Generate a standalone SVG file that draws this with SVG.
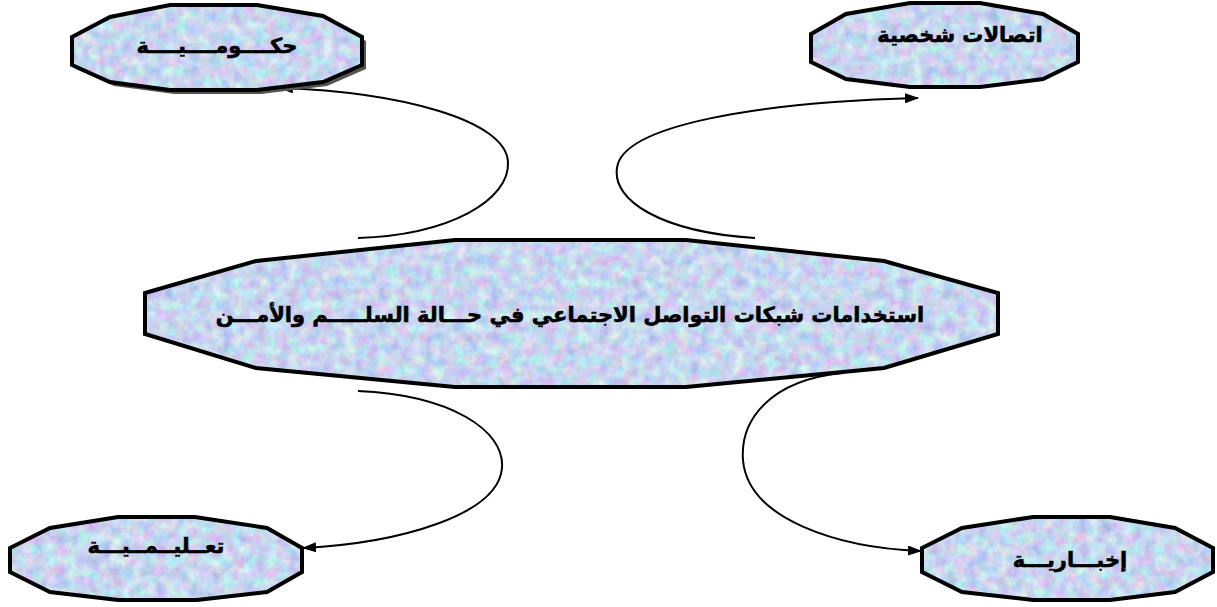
<svg xmlns="http://www.w3.org/2000/svg" width="1217" height="607" viewBox="0 0 1217 607">
<defs>
<filter id="tex" x="0" y="0" width="100%" height="100%" color-interpolation-filters="sRGB">
<feTurbulence type="fractalNoise" baseFrequency="0.09" numOctaves="3" seed="7" result="n"/>
<feColorMatrix in="n" type="matrix" values="0.4 0 0 0 0.58  0 0.4 0 0 0.64  0 0 0.15 0 0.86  0 0 0 0 1" result="c"/>
<feComposite in="c" in2="SourceGraphic" operator="in"/>
</filter>
<marker id="arr" viewBox="0 0 14 10" refX="13" refY="5" markerWidth="14" markerHeight="10" markerUnits="userSpaceOnUse" orient="auto">
<path d="M0,0 L14,5 L0,10 z" fill="#000"/>
</marker>
</defs>
<style>
.fill{fill:#c8d4f0;filter:url(#tex);}
.edge{fill:none;stroke:#000;stroke-width:4;stroke-linejoin:miter;}
.shadow{fill:#555;}
.lbl{font-family:"DejaVu Sans",sans-serif;font-weight:bold;font-size:21px;fill:#000;stroke:#000;stroke-width:0.6;text-anchor:middle;}
.conn{fill:none;stroke:#000;stroke-width:2;marker-end:url(#arr);}
</style>
<rect width="1217" height="607" fill="#fff"/>

<g id="connectors">
<path class="conn" d="M358,238 C450,235 510,200 508,162 C506,120 400,92 280,88"/>
<path class="conn" d="M755,238 C660,232 612,200 617,168 C622,125 760,102 918,98"/>
<path class="conn" d="M358,391 C450,395 505,430 502,468 C498,515 400,543 303,548"/>
<path class="conn" d="M843,373 C770,380 740,420 743,460 C748,520 840,548 921,551"/>
</g>

<g id="node-hukumiya">
<polygon class="shadow" transform="translate(4,4)" points="72,37 110,17 170,5 257,5 323,16 362,37 362,65 323,82 257,90 170,90 110,82 72,65"/>
<polygon class="fill" points="72,37 110,17 170,5 257,5 323,16 362,37 362,65 323,82 257,90 170,90 110,82 72,65"/>
<polygon class="edge" points="72,37 110,17 170,5 257,5 323,16 362,37 362,65 323,82 257,90 170,90 110,82 72,65"/>
<text class="lbl" x="217" y="53">حكــــومــــيــــة</text>
</g>

<g id="node-ittisalat">
<polygon class="fill" points="811,34 846,14 910,3 980,3 1043,14 1078,34 1078,62 1043,79 980,87 910,87 846,79 811,62"/>
<polygon class="edge" points="811,34 846,14 910,3 980,3 1043,14 1078,34 1078,62 1043,79 980,87 910,87 846,79 811,62"/>
<text class="lbl" x="960" y="42">اتصالات شخصية</text>
</g>

<g id="node-center">
<polygon class="fill" points="145,293 256,261 455,240 686,240 884,261 998,293 998,334 884,368 686,387 455,387 256,368 145,334"/>
<polygon class="edge" points="145,293 256,261 455,240 686,240 884,261 998,293 998,334 884,368 686,387 455,387 256,368 145,334"/>
<text class="lbl" x="570" y="322">استخدامات شبكات التواصل الاجتماعي في حـــالة السلـــــم والأمـــن</text>
</g>

<g id="node-talimiya">
<polygon class="fill" points="10,548 50,528 118,517 195,517 267,528 302,548 302,572 267,592 197,600 118,600 50,592 10,572"/>
<polygon class="edge" points="10,548 50,528 118,517 195,517 267,528 302,548 302,572 267,592 197,600 118,600 50,592 10,572"/>
<text class="lbl" x="156" y="553">تعــليــمــيـــة</text>
</g>

<g id="node-ikhbariya">
<polygon class="fill" points="922,548 962,528 1033,517 1110,517 1175,528 1213,548 1213,572 1175,592 1110,600 1033,600 962,592 922,572"/>
<polygon class="edge" points="922,548 962,528 1033,517 1110,517 1175,528 1213,548 1213,572 1175,592 1110,600 1033,600 962,592 922,572"/>
<text class="lbl" x="1070" y="567">إخبـــاريـــة</text>
</g>
</svg>
